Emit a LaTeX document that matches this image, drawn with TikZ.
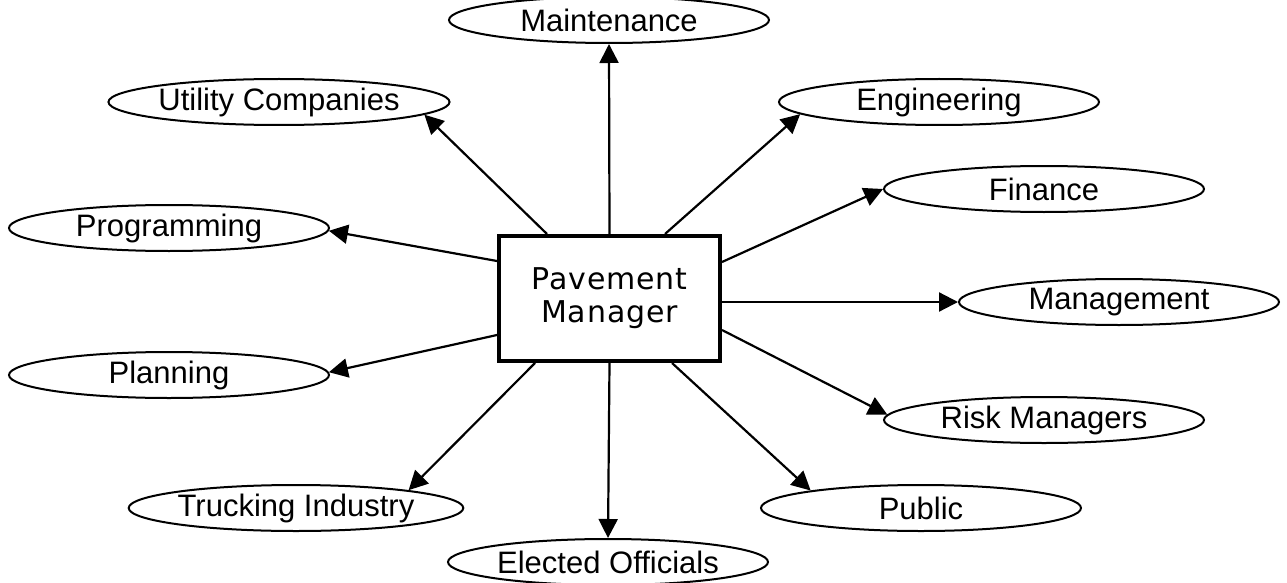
\documentclass[tikz,border=0pt]{standalone}
\usepackage{fontspec}
\setmainfont{Liberation Sans}
\newfontfamily\boxfont[LetterSpace=3]{DejaVu Sans}
\usetikzlibrary{shapes.geometric,arrows.meta,calc}

\tikzset{
  role/.style={draw, ellipse, line width=2pt, minimum width=320pt, minimum height=46pt,
    inner sep=0pt, font=\fontsize{31}{36}\selectfont},
  hub/.style={draw, rectangle, line width=4pt, minimum width=221pt, minimum height=125pt,
    inner sep=0pt, align=center, font=\boxfont\fontsize{30}{33}\selectfont},
  link/.style={line width=2.2pt, -{Triangle[length=19pt,width=19pt]}}
}

\begin{document}
\begin{tikzpicture}[x=1pt, y=-1pt]
\useasboundingbox (0,0) rectangle (1287,583);

% central box
\node[hub] (pm) at (609.5,298.5) {Pavement\\Manager};

% surrounding roles
\node[role] (maint) at (609,20)  {Maintenance};
\node[role] (util)  at (279,102) {Utility Companies};
\node[role] (eng)   at (939,102) {Engineering};
\node[role] (fin)   at (1044,189) {Finance};
\node[role] (prog)  at (169,228) {Programming};
\node[role] (mgmt)  at (1119,302) {Management};
\node[role] (plan)  at (169,375) {Planning};
\node[role] (risk)  at (1044,420) {Risk Managers};
\node[role] (truck) at (296,508) {Trucking Industry};
\node[role] (pub)   at (921,508) {Public};
\node[role] (elect) at (608,562) {Elected Officials};

% connectors from the manager to each role
\draw[link] (pm.north) -- (maint.south);
\draw[link] ([xshift=50pt]pm.north west) -- (util.-5);
\draw[link] ([xshift=-57pt]pm.north east) -- (eng.185);
\draw[link] ([yshift=-28pt]pm.north east) -- (fin.west);
\draw[link] (pm.east |- mgmt.west) -- (mgmt.west);
\draw[link] ([yshift=33pt]pm.south east) -- (risk.178);
\draw[link] ([xshift=-50pt]pm.south east) -- (pub.171);
\draw[link] (pm.south) -- (elect.north);
\draw[link] ([xshift=38pt]pm.south west) -- (truck.9);
\draw[link] ([yshift=28pt]pm.south west) -- (plan.1);
\draw[link] ([yshift=-27pt]pm.north west) -- (prog.-1);
\end{tikzpicture}
\end{document}
